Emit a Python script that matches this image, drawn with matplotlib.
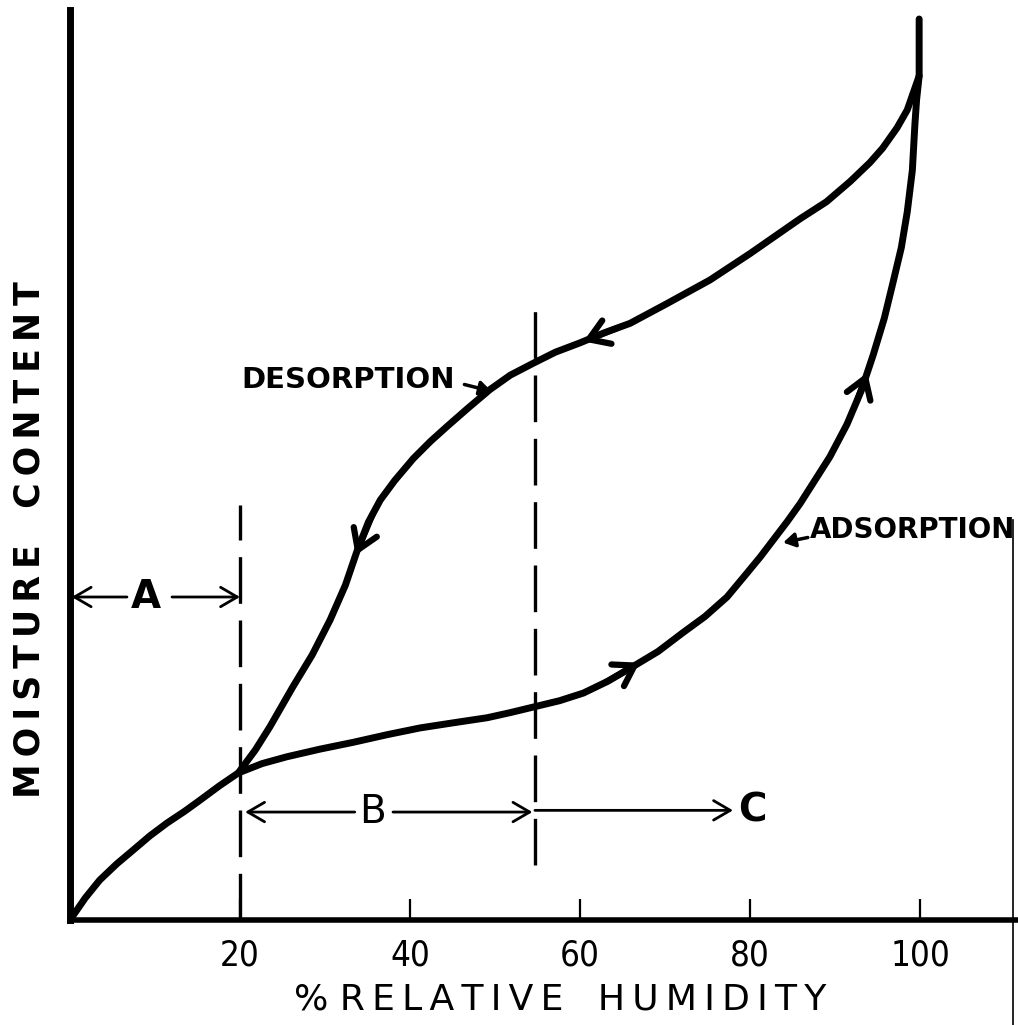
import numpy as np
import matplotlib
matplotlib.use('Agg')
import matplotlib.pyplot as plt
from matplotlib.lines import Line2D

# sorption hysteresis, values (% RH, moisture in arbitrary units)
ads_rh = [0, 1.8, 3.5, 5.5, 7.4, 9.4, 11.4, 13.5, 15.3, 17.6, 19.8, 22.6, 25.5, 29.4,
          33.3, 37.3, 41.2, 45.1, 49.1, 51.8, 54.7, 57.6, 60.4, 63.3, 66.2, 69.2, 72.1,
          74.7, 77.3, 79.3, 81.2, 82.8, 84.4, 85.9, 87.3, 89.4, 91.4, 93.1, 94.5, 95.8,
          96.8, 97.8, 98.5, 99.1, 99.4, 99.6, 99.9, 99.9]
ads_mc = [0, 2.6, 4.7, 6.6, 8.2, 9.9, 11.4, 12.8, 14.1, 15.8, 17.3, 18.4, 19.2, 20.1,
          20.9, 21.8, 22.6, 23.2, 23.8, 24.4, 25.1, 25.8, 26.7, 28.1, 29.8, 31.6, 33.8,
          35.7, 38.0, 40.4, 42.7, 44.8, 46.9, 49.0, 51.2, 54.5, 58.3, 62.3, 66.5, 70.8,
          74.9, 79.1, 83.3, 88.2, 93.6, 96.5, 99.3, 106.0]

des_rh = [19.8, 21.8, 23.5, 26.2, 28.5, 30.6, 32.4, 33.8, 35.1, 36.5, 38.2, 40.4, 42.4,
          44.4, 46.8, 49.4, 51.8, 54.5, 57.1, 60.0, 62.9, 65.9, 70.2, 75.3, 80.0, 85.9,
          89.0, 91.8, 94.1, 95.6, 97.3, 98.5, 99.9]
des_mc = [17.3, 20.0, 22.7, 27.4, 31.2, 35.3, 39.4, 43.5, 46.8, 49.4, 51.7, 54.3, 56.3,
          58.1, 60.2, 62.4, 64.1, 65.5, 66.8, 67.9, 69.1, 70.2, 72.5, 75.3, 78.4, 82.5,
          84.5, 86.9, 89.1, 90.8, 93.2, 95.3, 99.3]

xticks = [20, 40, 60, 80, 100]
xticklabels = ['20', '40', '60', '80', '100']

# region boundaries
bound_ab = 20
bound_bc = 54.7

TS = '\u2009'  # thin space for the wide hand lettering


def spaced(s):
    return ' '.join(TS.join(w) for w in s.split(' '))


fig = plt.figure(figsize=(10.18, 10.25), dpi=100)
ax = fig.add_axes([70 / 1018, 105 / 1025, 948 / 1018, 910 / 1025])
ax.set_xlim(0, 948 / 8.5)
ax.set_ylim(0, 910 / 8.5)

ax.plot(ads_rh, ads_mc, color='black', lw=5, solid_capstyle='round', solid_joinstyle='round')
ax.plot(des_rh, des_mc, color='black', lw=5, solid_capstyle='round', solid_joinstyle='round')


def curve_arrow(xs, ys, x_tip, dx):
    # chevron arrow sitting on the curve, pointing in the direction of dx
    tip = (x_tip, np.interp(x_tip, xs, ys))
    tail = (x_tip - dx, np.interp(x_tip - dx, xs, ys))
    ax.annotate('', xy=tip, xytext=tail,
                arrowprops=dict(arrowstyle='->,head_length=0.7,head_width=0.45',
                                color='black', lw=4.5, mutation_scale=20,
                                shrinkA=0, shrinkB=0))


curve_arrow(des_rh, des_mc, 33.6, -2.0)
curve_arrow(des_rh, des_mc, 60.4, -4.0)
curve_arrow(ads_rh, ads_mc, 67.0, 4.0)
curve_arrow(ads_rh, ads_mc, 93.8, 1.2)

# dashed boundaries
ax.plot([bound_ab, bound_ab], [0, 48.8], color='black', lw=2.4, dashes=(14, 5))
ax.plot([bound_bc, bound_bc], [6.5, 73.3], color='black', lw=2.4, dashes=(14, 5))

# region arrows A, B, C
arr = dict(arrowstyle='->,head_length=0.6,head_width=0.35', color='black', lw=2.0,
           mutation_scale=20, shrinkA=0, shrinkB=0)
ax.annotate('', xy=(0.2, 38), xytext=(6.7, 38), arrowprops=arr)
ax.annotate('', xy=(bound_ab, 38), xytext=(12.0, 38), arrowprops=arr)
ax.text(8.9, 38, 'A', fontsize=28, fontweight='bold', ha='center', va='center')

ax.annotate('', xy=(20.6, 12.7), xytext=(33.5, 12.7), arrowprops=arr)
ax.annotate('', xy=(bound_bc - 0.3, 12.7), xytext=(38.0, 12.7), arrowprops=arr)
ax.text(35.6, 12.7, 'B', fontsize=28, ha='center', va='center')

ax.annotate('', xy=(78.0, 12.9), xytext=(bound_bc, 12.9), arrowprops=arr)
ax.text(78.6, 12.9, 'C', fontsize=28, fontweight='bold', ha='left', va='center')

# curve labels
ax.text(20.2, 63.5, 'DESORPTION', fontsize=21, fontweight='bold', ha='left', va='center')
ax.annotate('', xy=(49.6, 62.2), xytext=(46.4, 63.0),
            arrowprops=dict(arrowstyle='-|>,head_length=0.5,head_width=0.3', color='black',
                            lw=2.5, mutation_scale=14, shrinkA=0, shrinkB=0))
ax.text(87.0, 45.9, 'ADSORPTION', fontsize=20, fontweight='bold', ha='left', va='center')
ax.annotate('', xy=(83.9, 44.4), xytext=(86.8, 45.0),
            arrowprops=dict(arrowstyle='-|>,head_length=0.5,head_width=0.3', color='black',
                            lw=2.5, mutation_scale=14, shrinkA=0, shrinkB=0))

# axes styling
for s in ['top', 'right']:
    ax.spines[s].set_visible(False)
ax.spines['left'].set_linewidth(5)
ax.spines['bottom'].set_linewidth(4)
ax.set_xticks(xticks)
ax.set_xticklabels(xticklabels, fontsize=25, fontstretch='condensed')
ax.tick_params(axis='x', direction='in', length=15, width=1.6, pad=13)
ax.set_yticks([])

ax.set_xlabel(spaced('% RELATIVE   HUMIDITY'), fontsize=26)
ax.xaxis.set_label_coords(490 / 948, -63 / 910)
fig.text(30 / 1018, 1 - 540 / 1025, spaced('MOISTURE   CONTENT'), rotation=90, fontsize=25,
         fontweight='bold', ha='center', va='center')

# scanner edge line at right
fig.add_artist(Line2D([1013 / 1018, 1013 / 1018], [0, 1 - 520 / 1025], color='black', lw=1.2))

fig.savefig('out.png', dpi=100)
